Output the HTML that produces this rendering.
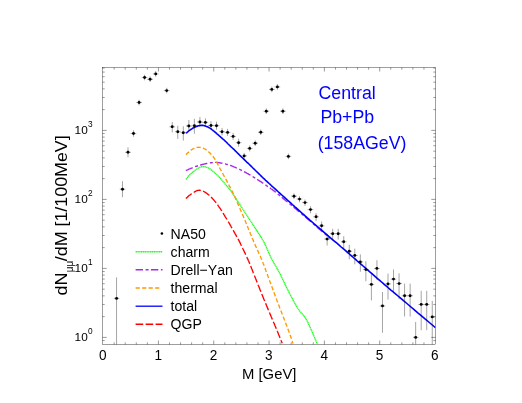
<!DOCTYPE html>
<html><head><meta charset="utf-8"><title>plot</title>
<style>html,body{margin:0;padding:0;background:#fff;}body{width:522px;height:403px;position:relative;overflow:hidden;font-family:"Liberation Sans",sans-serif;}</style></head>
<body>
<svg width="522" height="403" viewBox="0 0 522 403" style="position:absolute;left:0;top:0;will-change:transform;font-kerning:none">
<defs><clipPath id="c"><rect x="102.5" y="67.5" width="333.0" height="277.0"/></clipPath></defs>
<g stroke="#000" stroke-width="0.38" fill="none" id="frame">
<rect x="102.5" y="67.5" width="333.0" height="277.0"/>
<path d="M114.16 344.5v-2.2M114.16 67.5v2.2M125.23 344.5v-2.2M125.23 67.5v2.2M136.29 344.5v-2.2M136.29 67.5v2.2M147.36 344.5v-2.2M147.36 67.5v2.2M158.42 344.5v-4.0M158.42 67.5v4.0M169.48 344.5v-2.2M169.48 67.5v2.2M180.55 344.5v-2.2M180.55 67.5v2.2M191.61 344.5v-2.2M191.61 67.5v2.2M202.68 344.5v-2.2M202.68 67.5v2.2M213.74 344.5v-4.0M213.74 67.5v4.0M224.80 344.5v-2.2M224.80 67.5v2.2M235.87 344.5v-2.2M235.87 67.5v2.2M246.93 344.5v-2.2M246.93 67.5v2.2M258.00 344.5v-2.2M258.00 67.5v2.2M269.06 344.5v-4.0M269.06 67.5v4.0M280.12 344.5v-2.2M280.12 67.5v2.2M291.19 344.5v-2.2M291.19 67.5v2.2M302.25 344.5v-2.2M302.25 67.5v2.2M313.32 344.5v-2.2M313.32 67.5v2.2M324.38 344.5v-4.0M324.38 67.5v4.0M335.44 344.5v-2.2M335.44 67.5v2.2M346.51 344.5v-2.2M346.51 67.5v2.2M357.57 344.5v-2.2M357.57 67.5v2.2M368.64 344.5v-2.2M368.64 67.5v2.2M379.70 344.5v-4.0M379.70 67.5v4.0M390.76 344.5v-2.2M390.76 67.5v2.2M401.83 344.5v-2.2M401.83 67.5v2.2M412.89 344.5v-2.2M412.89 67.5v2.2M423.96 344.5v-2.2M423.96 67.5v2.2M102.5 340.56h2.2M435.5 340.56h-2.2M102.5 337.40h4.2M435.5 337.40h-4.2M102.5 316.63h2.2M435.5 316.63h-2.2M102.5 304.48h2.2M435.5 304.48h-2.2M102.5 295.86h2.2M435.5 295.86h-2.2M102.5 289.17h2.2M435.5 289.17h-2.2M102.5 283.71h2.2M435.5 283.71h-2.2M102.5 279.09h2.2M435.5 279.09h-2.2M102.5 275.09h2.2M435.5 275.09h-2.2M102.5 271.56h2.2M435.5 271.56h-2.2M102.5 268.40h4.2M435.5 268.40h-4.2M102.5 247.63h2.2M435.5 247.63h-2.2M102.5 235.48h2.2M435.5 235.48h-2.2M102.5 226.86h2.2M435.5 226.86h-2.2M102.5 220.17h2.2M435.5 220.17h-2.2M102.5 214.71h2.2M435.5 214.71h-2.2M102.5 210.09h2.2M435.5 210.09h-2.2M102.5 206.09h2.2M435.5 206.09h-2.2M102.5 202.56h2.2M435.5 202.56h-2.2M102.5 199.40h4.2M435.5 199.40h-4.2M102.5 178.63h2.2M435.5 178.63h-2.2M102.5 166.48h2.2M435.5 166.48h-2.2M102.5 157.86h2.2M435.5 157.86h-2.2M102.5 151.17h2.2M435.5 151.17h-2.2M102.5 145.71h2.2M435.5 145.71h-2.2M102.5 141.09h2.2M435.5 141.09h-2.2M102.5 137.09h2.2M435.5 137.09h-2.2M102.5 133.56h2.2M435.5 133.56h-2.2M102.5 130.40h4.2M435.5 130.40h-4.2M102.5 109.63h2.2M435.5 109.63h-2.2M102.5 97.48h2.2M435.5 97.48h-2.2M102.5 88.86h2.2M435.5 88.86h-2.2M102.5 82.17h2.2M435.5 82.17h-2.2M102.5 76.71h2.2M435.5 76.71h-2.2M102.5 72.09h2.2M435.5 72.09h-2.2M102.5 68.09h2.2M435.5 68.09h-2.2" stroke-width="0.4"/>
</g>
<g fill="none" clip-path="url(#c)" stroke-linejoin="round">
<path d="M185.9 179.4 L186.1 179.2 L186.3 178.9 L186.6 178.5 L186.9 178.1 L187.3 177.7 L187.7 177.2 L188.0 176.7 L188.4 176.2 L188.8 175.8 L189.2 175.3 L189.6 174.9 L190.0 174.5 L190.4 174.1 L190.8 173.8 L191.2 173.4 L191.6 173.0 L192.0 172.7 L192.4 172.3 L192.8 172.0 L193.3 171.7 L193.7 171.4 L194.1 171.1 L194.4 170.8 L194.8 170.5 L195.1 170.2 L195.5 170.0 L195.8 169.7 L196.1 169.5 L196.4 169.3 L196.7 169.1 L197.0 168.9 L197.3 168.7 L197.6 168.5 L197.9 168.3 L198.2 168.2 L198.5 168.0 L198.8 167.8 L199.2 167.7 L199.5 167.5 L199.8 167.4 L200.2 167.2 L200.5 167.1 L200.8 167.0 L201.2 166.9 L201.5 166.8 L201.8 166.7 L202.2 166.6 L202.5 166.6 L202.8 166.6 L203.1 166.6 L203.4 166.6 L203.8 166.6 L204.1 166.6 L204.4 166.7 L204.7 166.7 L205.0 166.8 L205.3 166.9 L205.6 167.0 L206.0 167.1 L206.3 167.2 L206.6 167.3 L207.0 167.4 L207.3 167.5 L207.6 167.7 L207.9 167.8 L208.2 167.9 L208.6 168.1 L208.9 168.3 L209.3 168.6 L209.8 168.8 L210.2 169.1 L210.7 169.5 L211.2 169.9 L211.8 170.4 L212.5 170.9 L213.2 171.5 L213.9 172.1 L214.6 172.7 L215.3 173.4 L216.1 174.0 L216.8 174.6 L217.4 175.3 L218.1 175.9 L218.7 176.5 L219.3 177.1 L219.8 177.7 L220.3 178.2 L220.8 178.8 L221.3 179.4 L221.8 179.9 L222.2 180.5 L222.7 181.1 L223.2 181.7 L223.6 182.2 L224.1 182.8 L224.6 183.4 L225.1 184.0 L225.6 184.5 L226.1 185.1 L226.6 185.7 L227.1 186.2 L227.6 186.8 L228.1 187.4 L228.6 187.9 L229.1 188.6 L229.6 189.2 L230.1 189.8 L230.6 190.5 L231.1 191.2 L231.6 191.9 L232.1 192.6 L232.6 193.3 L233.0 194.0 L233.5 194.8 L234.0 195.6 L234.6 196.4 L235.1 197.2 L235.7 198.1 L236.3 199.0 L236.9 200.0 L237.6 201.1 L238.3 202.2 L239.1 203.4 L239.9 204.6 L240.7 205.9 L241.5 207.2 L242.4 208.5 L243.2 209.8 L244.1 211.1 L244.9 212.3 L245.7 213.5 L246.4 214.7 L247.1 215.8 L247.8 216.8 L248.5 217.8 L249.1 218.8 L249.8 219.8 L250.4 220.7 L251.1 221.7 L251.7 222.7 L252.3 223.6 L253.0 224.7 L253.7 225.7 L254.4 226.8 L255.1 228.0 L255.9 229.2 L256.8 230.5 L257.6 231.8 L258.4 233.1 L259.3 234.4 L260.1 235.7 L260.9 237.0 L261.7 238.3 L262.4 239.5 L263.1 240.6 L263.7 241.7 L264.2 242.7 L264.7 243.6 L265.1 244.4 L265.5 245.2 L265.9 246.0 L266.2 246.7 L266.5 247.5 L266.8 248.2 L267.1 248.9 L267.4 249.6 L267.7 250.3 L268.0 251.0 L268.3 251.7 L268.6 252.4 L268.9 253.1 L269.2 253.7 L269.5 254.3 L269.7 255.0 L270.0 255.6 L270.3 256.3 L270.7 257.0 L271.0 257.8 L271.4 258.6 L271.9 259.5 L272.4 260.4 L273.0 261.4 L273.6 262.5 L274.2 263.5 L274.8 264.7 L275.5 265.8 L276.2 267.0 L276.9 268.2 L277.6 269.4 L278.3 270.6 L279.0 271.9 L279.7 273.2 L280.4 274.5 L281.1 275.9 L281.7 277.3 L282.4 278.7 L283.1 280.1 L283.8 281.6 L284.5 283.1 L285.2 284.6 L285.9 286.1 L286.6 287.6 L287.4 289.0 L288.1 290.5 L288.9 292.0 L289.6 293.5 L290.4 295.0 L291.2 296.5 L292.0 298.0 L292.8 299.6 L293.6 301.1 L294.4 302.6 L295.2 304.0 L296.0 305.4 L296.8 306.7 L297.6 308.0 L298.4 309.2 L299.1 310.2 L299.9 311.2 L300.6 312.0 L301.3 312.9 L302.1 313.7 L302.8 314.6 L303.6 315.5 L304.3 316.5 L305.1 317.6 L305.9 318.8 L306.7 320.2 L307.6 321.9 L308.5 323.8 L309.5 325.9 L310.5 328.2 L311.5 330.5 L312.6 332.9 L313.6 335.2 L314.5 337.4 L315.4 339.5 L316.1 341.3 L316.8 342.8 L317.3 344.0" stroke="#22ff22" stroke-width="1.35" stroke-dasharray="1.4 0.4"/>
<path d="M185.9 170.6 L186.3 170.4 L186.9 170.2 L187.5 169.9 L188.2 169.6 L188.9 169.2 L189.7 168.9 L190.6 168.5 L191.4 168.1 L192.3 167.8 L193.2 167.4 L194.0 167.1 L194.8 166.8 L195.6 166.5 L196.4 166.2 L197.2 166.0 L198.1 165.7 L198.9 165.5 L199.7 165.2 L200.6 165.0 L201.4 164.7 L202.3 164.5 L203.1 164.3 L204.0 164.1 L204.8 163.9 L205.6 163.7 L206.5 163.5 L207.3 163.4 L208.2 163.2 L209.1 163.1 L209.9 162.9 L210.8 162.8 L211.6 162.7 L212.4 162.6 L213.2 162.5 L214.0 162.4 L214.7 162.4 L215.4 162.4 L216.1 162.4 L216.7 162.4 L217.3 162.4 L217.9 162.5 L218.5 162.6 L219.0 162.7 L219.6 162.8 L220.2 162.9 L220.8 163.0 L221.4 163.1 L222.0 163.2 L222.6 163.3 L223.3 163.5 L224.0 163.6 L224.6 163.8 L225.3 163.9 L226.0 164.1 L226.6 164.3 L227.3 164.5 L228.0 164.7 L228.6 164.9 L229.3 165.1 L229.9 165.3 L230.5 165.5 L231.1 165.7 L231.7 165.9 L232.3 166.2 L232.9 166.4 L233.5 166.6 L234.0 166.9 L234.6 167.1 L235.2 167.4 L235.8 167.7 L236.4 167.9 L237.0 168.2 L237.6 168.5 L238.3 168.8 L238.9 169.1 L239.6 169.4 L240.2 169.7 L240.9 170.0 L241.6 170.3 L242.2 170.7 L242.9 171.0 L243.5 171.3 L244.2 171.7 L244.8 172.0 L245.4 172.3 L246.0 172.7 L246.6 173.0 L247.2 173.4 L247.8 173.7 L248.4 174.0 L249.0 174.4 L249.6 174.7 L250.2 175.1 L250.8 175.5 L251.4 175.8 L252.0 176.2 L252.6 176.6 L253.2 176.9 L253.9 177.3 L254.5 177.7 L255.1 178.1 L255.8 178.5 L256.4 178.9 L257.1 179.3 L257.7 179.7 L258.3 180.1 L259.0 180.5 L259.6 180.9 L260.2 181.3 L260.8 181.7 L261.5 182.1 L262.1 182.6 L262.7 183.0 L263.3 183.4 L263.9 183.8 L264.5 184.3 L265.1 184.7 L265.8 185.1 L266.4 185.6 L267.0 186.0 L267.6 186.4 L268.2 186.8 L268.7 187.1 L269.2 187.5 L269.7 187.8 L270.3 188.2 L270.8 188.6 L271.4 189.0 L272.1 189.4 L272.8 190.0 L273.6 190.6 L274.5 191.3 L275.5 192.1 L276.6 193.0 L277.8 194.0 L279.0 195.0 L280.3 196.1 L281.7 197.2 L283.1 198.4 L284.4 199.5 L285.8 200.7 L287.2 201.8 L288.5 202.9 L289.8 204.0 L291.1 205.0 L292.3 206.1 L293.6 207.2 L294.9 208.3 L296.2 209.3 L297.5 210.4 L298.8 211.4 L300.0 212.5 L301.2 213.5 L302.4 214.4 L303.5 215.4 L304.6 216.3 L305.6 217.2 L306.5 217.9 L307.4 218.7 L308.2 219.4 L309.0 220.1 L309.8 220.8 L310.6 221.4 L311.4 222.1 L312.2 222.8 L313.1 223.6 L314.0 224.4 L315.0 225.3 L316.1 226.3 L317.4 227.4 L318.8 228.6 L320.2 229.8 L321.7 231.1 L323.1 232.4 L324.6 233.6 L325.9 234.8 L327.2 235.9 L328.3 236.8 L329.3 237.7 L330.0 238.3" stroke="#a62ae8" stroke-width="1.4" stroke-dasharray="7.4 2.6 3.0 2.3"/>
<path d="M185.9 154.6 L186.2 154.4 L186.5 154.1 L186.9 153.7 L187.3 153.3 L187.8 152.8 L188.3 152.4 L188.8 151.9 L189.4 151.4 L189.9 151.0 L190.5 150.5 L191.0 150.1 L191.5 149.8 L192.0 149.5 L192.5 149.2 L193.0 148.9 L193.6 148.7 L194.1 148.4 L194.6 148.2 L195.2 148.0 L195.7 147.8 L196.3 147.6 L196.8 147.5 L197.3 147.4 L197.8 147.3 L198.3 147.3 L198.8 147.2 L199.3 147.3 L199.8 147.3 L200.3 147.4 L200.7 147.5 L201.2 147.6 L201.7 147.7 L202.1 147.9 L202.6 148.0 L203.1 148.2 L203.5 148.4 L203.9 148.6 L204.4 148.8 L204.8 149.0 L205.2 149.2 L205.6 149.4 L206.0 149.7 L206.4 150.0 L206.8 150.3 L207.2 150.6 L207.6 150.9 L208.1 151.3 L208.5 151.7 L209.0 152.1 L209.4 152.6 L209.9 153.1 L210.4 153.6 L210.9 154.1 L211.4 154.7 L211.9 155.3 L212.5 155.9 L213.0 156.5 L213.5 157.2 L214.0 157.9 L214.5 158.6 L215.0 159.4 L215.5 160.2 L216.0 161.0 L216.5 161.9 L217.0 162.8 L217.5 163.8 L218.0 164.7 L218.5 165.7 L219.0 166.7 L219.5 167.6 L220.0 168.6 L220.5 169.5 L221.0 170.4 L221.5 171.3 L222.0 172.2 L222.5 173.1 L223.0 174.0 L223.5 175.0 L224.0 175.9 L224.5 176.8 L225.1 177.7 L225.6 178.7 L226.1 179.6 L226.6 180.6 L227.1 181.6 L227.6 182.6 L228.2 183.6 L228.7 184.6 L229.2 185.6 L229.8 186.6 L230.3 187.6 L230.8 188.7 L231.4 189.7 L231.9 190.8 L232.5 191.9 L233.0 193.0 L233.5 194.1 L234.1 195.3 L234.7 196.6 L235.2 197.8 L235.8 199.1 L236.3 200.4 L236.9 201.6 L237.4 202.9 L238.0 204.1 L238.5 205.3 L239.0 206.5 L239.5 207.6 L240.0 208.7 L240.4 209.7 L240.8 210.6 L241.2 211.6 L241.6 212.5 L242.0 213.4 L242.4 214.3 L242.8 215.2 L243.2 216.1 L243.6 217.1 L244.0 218.0 L244.4 219.0 L244.8 220.0 L245.3 221.0 L245.7 222.1 L246.1 223.1 L246.6 224.2 L247.0 225.3 L247.4 226.3 L247.9 227.4 L248.3 228.5 L248.7 229.5 L249.2 230.6 L249.6 231.6 L250.0 232.6 L250.4 233.7 L250.9 234.7 L251.3 235.7 L251.7 236.8 L252.1 237.8 L252.5 238.8 L253.0 239.8 L253.4 240.8 L253.7 241.7 L254.1 242.6 L254.5 243.5 L254.9 244.3 L255.2 245.1 L255.5 245.9 L255.9 246.6 L256.2 247.3 L256.5 248.0 L256.8 248.7 L257.1 249.4 L257.4 250.1 L257.8 250.8 L258.1 251.5 L258.4 252.2 L258.7 252.9 L259.0 253.6 L259.3 254.2 L259.6 254.8 L259.9 255.4 L260.2 256.0 L260.5 256.7 L260.8 257.4 L261.1 258.2 L261.5 259.0 L261.9 260.0 L262.3 261.0 L262.8 262.2 L263.2 263.4 L263.7 264.7 L264.3 266.2 L264.8 267.6 L265.4 269.2 L265.9 270.7 L266.5 272.3 L267.1 273.9 L267.7 275.4 L268.2 277.0 L268.8 278.5 L269.4 280.0 L269.9 281.5 L270.5 283.0 L271.0 284.5 L271.6 286.1 L272.2 287.6 L272.7 289.1 L273.3 290.6 L273.8 292.1 L274.4 293.6 L274.9 295.1 L275.5 296.6 L276.0 298.1 L276.6 299.5 L277.1 300.9 L277.7 302.3 L278.2 303.8 L278.8 305.2 L279.3 306.6 L279.8 308.0 L280.4 309.4 L280.9 310.8 L281.5 312.2 L282.0 313.6 L282.6 315.0 L283.1 316.5 L283.7 318.0 L284.3 319.5 L284.9 321.0 L285.4 322.5 L286.0 323.9 L286.6 325.4 L287.1 326.8 L287.6 328.2 L288.1 329.5 L288.6 330.8 L289.1 332.1 L289.5 333.3 L290.0 334.6 L290.4 335.8 L290.8 337.1 L291.2 338.2 L291.6 339.3 L291.9 340.4 L292.3 341.3 L292.5 342.2 L292.8 342.9 L293.0 343.5" stroke="#ff9900" stroke-width="1.35" stroke-dasharray="4.2 2.3"/>
<path d="M185.9 198.5 L186.2 198.2 L186.6 197.9 L187.0 197.5 L187.5 197.1 L188.0 196.6 L188.5 196.1 L189.1 195.6 L189.7 195.1 L190.3 194.7 L190.9 194.2 L191.5 193.8 L192.0 193.4 L192.5 193.1 L193.1 192.7 L193.6 192.4 L194.2 192.1 L194.8 191.7 L195.3 191.5 L195.9 191.2 L196.5 190.9 L197.0 190.7 L197.6 190.5 L198.1 190.4 L198.6 190.3 L199.1 190.2 L199.6 190.2 L200.0 190.3 L200.5 190.3 L200.9 190.4 L201.4 190.5 L201.8 190.6 L202.2 190.8 L202.7 191.0 L203.1 191.2 L203.6 191.4 L204.0 191.6 L204.5 191.8 L204.9 192.1 L205.4 192.4 L205.8 192.7 L206.3 193.0 L206.8 193.4 L207.2 193.7 L207.7 194.1 L208.2 194.5 L208.6 194.8 L209.1 195.2 L209.5 195.6 L209.9 196.0 L210.4 196.4 L210.8 196.8 L211.2 197.2 L211.6 197.6 L212.0 198.0 L212.4 198.4 L212.8 198.9 L213.2 199.3 L213.7 199.8 L214.1 200.3 L214.5 200.8 L214.9 201.3 L215.4 201.9 L215.8 202.4 L216.2 203.0 L216.7 203.5 L217.1 204.1 L217.5 204.7 L218.0 205.3 L218.4 206.0 L218.8 206.6 L219.3 207.2 L219.7 207.8 L220.1 208.4 L220.5 209.0 L220.9 209.7 L221.4 210.3 L221.8 211.0 L222.2 211.6 L222.6 212.3 L223.0 212.9 L223.4 213.6 L223.8 214.3 L224.2 214.9 L224.6 215.6 L225.0 216.3 L225.4 216.9 L225.8 217.6 L226.3 218.3 L226.7 219.0 L227.1 219.7 L227.5 220.4 L227.9 221.1 L228.4 221.8 L228.8 222.5 L229.2 223.2 L229.6 223.9 L230.0 224.6 L230.4 225.3 L230.8 226.0 L231.2 226.8 L231.6 227.5 L232.0 228.2 L232.5 228.9 L232.9 229.7 L233.3 230.4 L233.7 231.1 L234.1 231.9 L234.5 232.6 L234.9 233.3 L235.3 234.1 L235.8 234.9 L236.2 235.6 L236.6 236.4 L237.0 237.1 L237.5 237.9 L237.9 238.7 L238.3 239.4 L238.7 240.2 L239.1 240.9 L239.5 241.7 L239.9 242.4 L240.2 243.2 L240.6 243.9 L240.9 244.6 L241.3 245.3 L241.6 246.0 L242.0 246.7 L242.3 247.4 L242.7 248.2 L243.0 249.0 L243.4 249.8 L243.8 250.6 L244.2 251.5 L244.6 252.4 L245.1 253.2 L245.5 254.2 L245.9 255.1 L246.4 256.1 L246.8 257.0 L247.3 258.1 L247.8 259.1 L248.2 260.2 L248.7 261.3 L249.2 262.4 L249.7 263.6 L250.2 264.8 L250.7 266.1 L251.2 267.4 L251.7 268.7 L252.3 270.0 L252.8 271.4 L253.3 272.8 L253.9 274.2 L254.4 275.5 L255.0 276.9 L255.5 278.3 L256.1 279.7 L256.6 281.1 L257.2 282.5 L257.7 283.9 L258.3 285.4 L258.9 286.8 L259.5 288.3 L260.0 289.7 L260.6 291.1 L261.2 292.5 L261.7 293.9 L262.3 295.3 L262.9 296.7 L263.4 298.0 L263.9 299.3 L264.5 300.6 L265.0 301.9 L265.6 303.2 L266.1 304.5 L266.6 305.8 L267.2 307.1 L267.7 308.4 L268.3 309.7 L268.8 311.0 L269.4 312.3 L269.9 313.6 L270.5 314.9 L271.0 316.2 L271.6 317.5 L272.1 318.9 L272.7 320.2 L273.3 321.5 L273.8 322.8 L274.4 324.1 L274.9 325.5 L275.5 326.8 L276.1 328.2 L276.7 329.7 L277.3 331.2 L278.0 332.8 L278.6 334.4 L279.3 336.0 L279.9 337.5 L280.5 338.9 L281.0 340.2 L281.5 341.4 L281.9 342.4 L282.2 343.2" stroke="#ff0000" stroke-width="1.35" stroke-dasharray="7.6 2.4"/>
<path d="M186.0 133.3 L186.2 133.1 L186.6 132.8 L186.9 132.5 L187.3 132.2 L187.8 131.8 L188.2 131.4 L188.7 131.0 L189.2 130.6 L189.7 130.2 L190.2 129.9 L190.7 129.5 L191.2 129.2 L191.7 128.9 L192.2 128.6 L192.6 128.3 L193.1 128.0 L193.6 127.8 L194.1 127.5 L194.7 127.2 L195.2 127.0 L195.7 126.8 L196.1 126.6 L196.6 126.4 L197.1 126.2 L197.6 126.1 L198.0 125.9 L198.5 125.8 L198.9 125.7 L199.4 125.6 L199.8 125.6 L200.3 125.5 L200.7 125.5 L201.1 125.4 L201.5 125.4 L201.9 125.4 L202.3 125.4 L202.7 125.4 L203.0 125.4 L203.3 125.5 L203.6 125.5 L203.9 125.6 L204.2 125.7 L204.5 125.8 L204.8 125.9 L205.1 126.0 L205.4 126.1 L205.7 126.2 L206.0 126.3 L206.3 126.4 L206.6 126.5 L206.9 126.6 L207.2 126.8 L207.6 126.9 L207.9 127.0 L208.2 127.2 L208.5 127.3 L208.8 127.5 L209.2 127.7 L209.5 127.9 L209.9 128.1 L210.3 128.4 L210.7 128.6 L211.1 128.9 L211.5 129.2 L211.9 129.6 L212.3 129.9 L212.8 130.2 L213.2 130.6 L213.6 130.9 L214.1 131.3 L214.5 131.7 L214.9 132.0 L215.3 132.3 L215.7 132.7 L216.1 133.0 L216.5 133.4 L216.9 133.8 L217.3 134.1 L217.8 134.5 L218.2 134.8 L218.6 135.2 L219.0 135.6 L219.4 135.9 L219.8 136.3 L220.2 136.7 L220.6 137.0 L221.0 137.4 L221.5 137.7 L221.9 138.1 L222.3 138.5 L222.7 138.8 L223.1 139.2 L223.5 139.6 L224.0 139.9 L224.4 140.3 L224.8 140.7 L225.2 141.1 L225.6 141.5 L226.1 141.9 L226.5 142.3 L226.9 142.7 L227.3 143.1 L227.7 143.6 L228.1 144.0 L228.6 144.4 L229.0 144.8 L229.4 145.2 L229.8 145.6 L230.2 146.0 L230.6 146.4 L231.0 146.8 L231.4 147.1 L231.8 147.5 L232.3 147.9 L232.7 148.3 L233.1 148.6 L233.5 149.0 L233.9 149.4 L234.3 149.8 L234.7 150.2 L235.1 150.6 L235.5 151.0 L235.9 151.4 L236.4 151.8 L236.8 152.3 L237.2 152.7 L237.6 153.1 L238.0 153.5 L238.4 153.9 L238.9 154.4 L239.3 154.8 L239.7 155.2 L240.1 155.6 L240.4 155.9 L240.7 156.2 L241.0 156.5 L241.3 156.8 L241.6 157.1 L242.0 157.4 L242.4 157.8 L242.8 158.2 L243.4 158.7 L244.0 159.4 L244.8 160.1 L245.7 161.0 L246.8 162.1 L248.0 163.2 L249.4 164.5 L250.8 165.9 L252.2 167.3 L253.6 168.7 L255.0 170.0 L256.3 171.3 L257.6 172.5 L258.7 173.6 L259.6 174.5 L260.4 175.2 L261.0 175.9 L261.5 176.4 L261.9 176.8 L262.3 177.1 L262.6 177.5 L262.9 177.8 L263.2 178.0 L263.6 178.4 L264.0 178.7 L264.4 179.2 L265.0 179.7 L265.6 180.3 L266.3 180.9 L267.0 181.5 L267.6 182.2 L268.4 182.8 L269.1 183.5 L269.9 184.2 L270.8 185.0 L271.6 185.8 L272.5 186.6 L273.5 187.5 L274.5 188.4 L275.6 189.4 L276.7 190.4 L277.9 191.5 L279.2 192.6 L280.5 193.8 L281.8 195.0 L283.1 196.2 L284.5 197.4 L285.8 198.6 L287.2 199.9 L288.5 201.0 L289.8 202.2 L291.1 203.3 L292.3 204.5 L293.6 205.6 L294.9 206.8 L296.2 207.9 L297.5 209.1 L298.7 210.2 L300.0 211.3 L301.3 212.5 L302.5 213.6 L303.8 214.7 L305.0 215.8 L306.2 216.9 L307.3 217.9 L308.4 218.8 L309.5 219.7 L310.5 220.7 L311.6 221.6 L312.7 222.5 L313.9 223.6 L315.1 224.6 L316.5 225.8 L317.9 227.0 L319.5 228.4 L321.3 229.9 L323.2 231.6 L325.3 233.4 L327.6 235.3 L329.9 237.3 L332.2 239.3 L334.6 241.3 L336.9 243.2 L339.1 245.1 L341.2 247.0 L343.2 248.7 L345.0 250.2 L346.6 251.6 L348.0 252.8 L349.4 254.0 L350.6 255.1 L351.7 256.1 L352.8 257.0 L353.9 258.0 L355.0 258.9 L356.1 259.9 L357.3 261.0 L358.6 262.1 L360.0 263.3 L361.5 264.6 L363.1 266.0 L364.7 267.4 L366.4 268.9 L368.1 270.4 L369.8 271.9 L371.6 273.4 L373.3 274.9 L375.0 276.4 L376.7 277.9 L378.4 279.3 L380.0 280.7 L381.5 282.0 L382.9 283.2 L384.2 284.3 L385.4 285.4 L386.7 286.4 L387.9 287.5 L389.2 288.6 L390.6 289.8 L392.2 291.1 L393.9 292.5 L395.8 294.2 L398.0 296.0 L400.6 298.2 L403.5 300.7 L406.9 303.5 L410.4 306.5 L414.1 309.6 L417.8 312.8 L421.5 315.8 L425.0 318.8 L428.2 321.5 L431.1 324.0 L433.5 326.0 L435.4 327.6" stroke="#0000ff" stroke-width="1.6"/>
</g>
<g clip-path="url(#c)">
<path d="M116.55 277.4V358.4M113.8 298.40H119.3M122.46 181.2V197.2M119.7 189.20H125.3M127.99 147.3V157.3M125.2 152.30H130.8M133.53 130.3V136.7M130.7 133.50H136.3M139.06 99.7V105.3M136.3 102.50H141.9M144.59 74.7V80.3M141.8 77.50H147.4M150.12 76.5V82.1M147.3 79.30H152.9M155.65 71.1V76.7M152.9 73.90H158.5M166.72 87.8V93.4M163.9 90.60H169.5M172.25 122.0V132.4M169.4 126.80H175.1M177.78 125.7V138.9M175.0 131.70H180.6M183.31 126.3V140.6M180.5 132.70H186.1M188.85 120.0V131.0M186.0 126.00H191.6M194.38 118.8V133.7M191.6 125.70H197.2M199.91 117.0V126.3M197.1 122.00H202.7M205.44 118.4V126.4M202.6 122.40H208.2M210.97 121.2V129.8M208.2 125.50H213.8M216.51 121.7V129.7M213.7 125.70H219.3M222.04 128.0V135.4M219.2 131.70H224.8M227.57 128.9V135.9M224.8 132.40H230.4M233.10 132.9V139.9M230.3 136.40H235.9M238.63 138.7V146.7M235.8 142.70H241.4M244.17 152.9V158.9M241.4 155.90H247.0M249.70 145.4V151.4M246.9 148.40H252.5M255.23 140.4V146.0M252.4 143.20H258.0M260.76 129.5V135.1M258.0 132.30H263.6M266.29 108.4V114.0M263.5 111.20H269.1M271.83 86.6V92.2M269.0 89.40H274.6M277.36 84.1V89.7M274.6 86.90H280.2M282.89 108.4V114.0M280.1 111.20H285.7M288.42 153.6V159.2M285.6 156.40H291.2M293.95 193.3V199.1M291.2 196.15H296.8M299.49 196.2V202.2M296.7 199.05H302.3M305.02 199.5V205.9M302.2 202.55H307.8M310.55 206.2V213.3M307.7 209.55H313.3M316.08 213.1V221.2M313.3 216.85H318.9M321.61 221.5V230.9M318.8 225.85H324.4M327.15 233.7V245.5M324.3 239.05H329.9M332.68 228.8V239.5M329.9 233.65H335.5M338.21 228.8V239.5M335.4 233.65H341.0M343.74 236.2V248.5M340.9 241.75H346.5M349.27 244.9V259.4M346.5 251.25H352.1M354.81 248.6V264.3M352.0 255.45H357.6M360.34 254.4V271.8M357.5 261.85H363.1M365.87 261.2V281.2M363.1 269.55H368.7M371.40 274.1V300.4M368.6 284.45H374.2M376.93 260.2V279.9M374.1 268.45H379.7M382.47 292.0V332.8M379.7 305.95H385.3M388.00 273.6V299.6M385.2 283.85H390.8M393.53 269.5V293.4M390.7 279.15H396.3M399.06 273.3V299.2M396.3 283.55H401.9M404.59 283.6V316.5M401.8 295.75H407.4M410.13 283.6V316.5M407.3 295.75H412.9M415.66 321.9V544.4M412.9 337.35H418.5M421.19 290.8V330.2M418.4 304.45H424.0M426.72 290.8V330.2M423.9 304.45H429.5M432.25 300.9V354.1M429.5 316.95H435.1" stroke="#000" stroke-width="0.36" fill="none" id="eb"/>
<circle cx="116.6" cy="298.4" r="1.45" fill="#000"/>
<circle cx="122.5" cy="189.2" r="1.45" fill="#000"/>
<circle cx="128.0" cy="152.3" r="1.45" fill="#000"/>
<circle cx="133.5" cy="133.5" r="1.45" fill="#000"/>
<circle cx="139.1" cy="102.5" r="1.45" fill="#000"/>
<circle cx="144.6" cy="77.5" r="1.45" fill="#000"/>
<circle cx="150.1" cy="79.3" r="1.45" fill="#000"/>
<circle cx="155.7" cy="73.9" r="1.45" fill="#000"/>
<circle cx="166.7" cy="90.6" r="1.45" fill="#000"/>
<circle cx="172.2" cy="126.8" r="1.45" fill="#000"/>
<circle cx="177.8" cy="131.7" r="1.45" fill="#000"/>
<circle cx="183.3" cy="132.7" r="1.45" fill="#000"/>
<circle cx="188.8" cy="126.0" r="1.45" fill="#000"/>
<circle cx="194.4" cy="125.7" r="1.45" fill="#000"/>
<circle cx="199.9" cy="122.0" r="1.45" fill="#000"/>
<circle cx="205.4" cy="122.4" r="1.45" fill="#000"/>
<circle cx="211.0" cy="125.5" r="1.45" fill="#000"/>
<circle cx="216.5" cy="125.7" r="1.45" fill="#000"/>
<circle cx="222.0" cy="131.7" r="1.45" fill="#000"/>
<circle cx="227.6" cy="132.4" r="1.45" fill="#000"/>
<circle cx="233.1" cy="136.4" r="1.45" fill="#000"/>
<circle cx="238.6" cy="142.7" r="1.45" fill="#000"/>
<circle cx="244.2" cy="155.9" r="1.45" fill="#000"/>
<circle cx="249.7" cy="148.4" r="1.45" fill="#000"/>
<circle cx="255.2" cy="143.2" r="1.45" fill="#000"/>
<circle cx="260.8" cy="132.3" r="1.45" fill="#000"/>
<circle cx="266.3" cy="111.2" r="1.45" fill="#000"/>
<circle cx="271.8" cy="89.4" r="1.45" fill="#000"/>
<circle cx="277.4" cy="86.9" r="1.45" fill="#000"/>
<circle cx="282.9" cy="111.2" r="1.45" fill="#000"/>
<circle cx="288.4" cy="156.4" r="1.45" fill="#000"/>
<circle cx="294.0" cy="196.2" r="1.45" fill="#000"/>
<circle cx="299.5" cy="199.1" r="1.45" fill="#000"/>
<circle cx="305.0" cy="202.6" r="1.45" fill="#000"/>
<circle cx="310.5" cy="209.6" r="1.45" fill="#000"/>
<circle cx="316.1" cy="216.8" r="1.45" fill="#000"/>
<circle cx="321.6" cy="225.8" r="1.45" fill="#000"/>
<circle cx="327.1" cy="239.1" r="1.45" fill="#000"/>
<circle cx="332.7" cy="233.7" r="1.45" fill="#000"/>
<circle cx="338.2" cy="233.7" r="1.45" fill="#000"/>
<circle cx="343.7" cy="241.8" r="1.45" fill="#000"/>
<circle cx="349.3" cy="251.2" r="1.45" fill="#000"/>
<circle cx="354.8" cy="255.4" r="1.45" fill="#000"/>
<circle cx="360.3" cy="261.9" r="1.45" fill="#000"/>
<circle cx="365.9" cy="269.6" r="1.45" fill="#000"/>
<circle cx="371.4" cy="284.4" r="1.45" fill="#000"/>
<circle cx="376.9" cy="268.4" r="1.45" fill="#000"/>
<circle cx="382.5" cy="305.9" r="1.45" fill="#000"/>
<circle cx="388.0" cy="283.9" r="1.45" fill="#000"/>
<circle cx="393.5" cy="279.1" r="1.45" fill="#000"/>
<circle cx="399.1" cy="283.6" r="1.45" fill="#000"/>
<circle cx="404.6" cy="295.8" r="1.45" fill="#000"/>
<circle cx="410.1" cy="295.8" r="1.45" fill="#000"/>
<circle cx="415.7" cy="337.4" r="1.45" fill="#000"/>
<circle cx="421.2" cy="304.4" r="1.45" fill="#000"/>
<circle cx="426.7" cy="304.4" r="1.45" fill="#000"/>
<circle cx="432.3" cy="316.9" r="1.45" fill="#000"/>
</g>
<g fill="none">
<path d="M135.6 251.7H162.5" stroke="#22ff22" stroke-width="1.35" stroke-dasharray="1.4 0.4"/>
<path d="M135.6 269.8H162.5" stroke="#a62ae8" stroke-width="1.4" stroke-dasharray="7.4 2.6 3.0 2.3"/>
<path d="M135.6 288.0H161.0" stroke="#ff9900" stroke-width="1.35" stroke-dasharray="4.2 2.3"/>
<path d="M135.6 306.2H162.5" stroke="#0000ff" stroke-width="1.3"/>
<path d="M135.6 324.2H162.5" stroke="#ff0000" stroke-width="1.35" stroke-dasharray="7.6 2.4"/>
</g>
<circle cx="161.9" cy="233.5" r="1.3" fill="#000"/>
<g font-family="'Liberation Sans', sans-serif" fill="#000">
<text transform="translate(170.6,238.5) scale(1,1.06)" font-size="14.1">NA50</text>
<text transform="translate(170.6,256.5) scale(1,1.06)" font-size="14.1">charm</text>
<text transform="translate(170.6,274.6) scale(1,1.06)" font-size="14.1">Drell−Yan</text>
<text transform="translate(170.6,292.7) scale(1,1.06)" font-size="14.1">thermal</text>
<text transform="translate(170.6,310.5) scale(1,1.06)" font-size="14.1">total</text>
<text transform="translate(170.6,328.7) scale(1,1.06)" font-size="14.1">QGP</text>
<text transform="translate(102.9,360.1) scale(1,1.11)" font-size="13.6" text-anchor="middle">0</text>
<text transform="translate(158.2,360.1) scale(1,1.11)" font-size="13.6" text-anchor="middle">1</text>
<text transform="translate(213.5,360.1) scale(1,1.11)" font-size="13.6" text-anchor="middle">2</text>
<text transform="translate(268.9,360.1) scale(1,1.11)" font-size="13.6" text-anchor="middle">3</text>
<text transform="translate(324.2,360.1) scale(1,1.11)" font-size="13.6" text-anchor="middle">4</text>
<text transform="translate(379.5,360.1) scale(1,1.11)" font-size="13.6" text-anchor="middle">5</text>
<text transform="translate(434.8,360.1) scale(1,1.11)" font-size="13.6" text-anchor="middle">6</text>
<text transform="translate(242.0,379.0) scale(1,1.046)" font-size="14.85">M [GeV]</text>
<text x="74.6" y="341.3" font-size="11.8">10<tspan font-size="8.3" dy="-7.1" dx="0.3">0</tspan></text>
<text x="74.6" y="272.3" font-size="11.8">10<tspan font-size="8.3" dy="-7.1" dx="0.3">1</tspan></text>
<text x="74.6" y="203.3" font-size="11.8">10<tspan font-size="8.3" dy="-7.1" dx="0.3">2</tspan></text>
<text x="74.6" y="134.3" font-size="11.8">10<tspan font-size="8.3" dy="-7.1" dx="0.3">3</tspan></text>
<text transform="translate(67.4,295.5) rotate(-90) scale(1,0.94)" font-size="17.85">dN</text>
<text transform="translate(72.7,272.3) rotate(-90)" font-size="10">μμ</text>
<text transform="translate(67.4,261.2) rotate(-90) scale(1,0.94)" font-size="17.85">/dM [1/100MeV]</text>
</g>
<g font-family="'Liberation Sans', sans-serif" fill="#0000ff" font-size="17.75">
<text transform="translate(318.5,98.8) scale(1,1.07)">Central</text>
<text transform="translate(320.4,123.0) scale(1,1.07)">Pb+Pb</text>
<text transform="translate(317.7,148.8) scale(1,1.07)">(158AGeV)</text>
</g>
</svg>
</body></html>
